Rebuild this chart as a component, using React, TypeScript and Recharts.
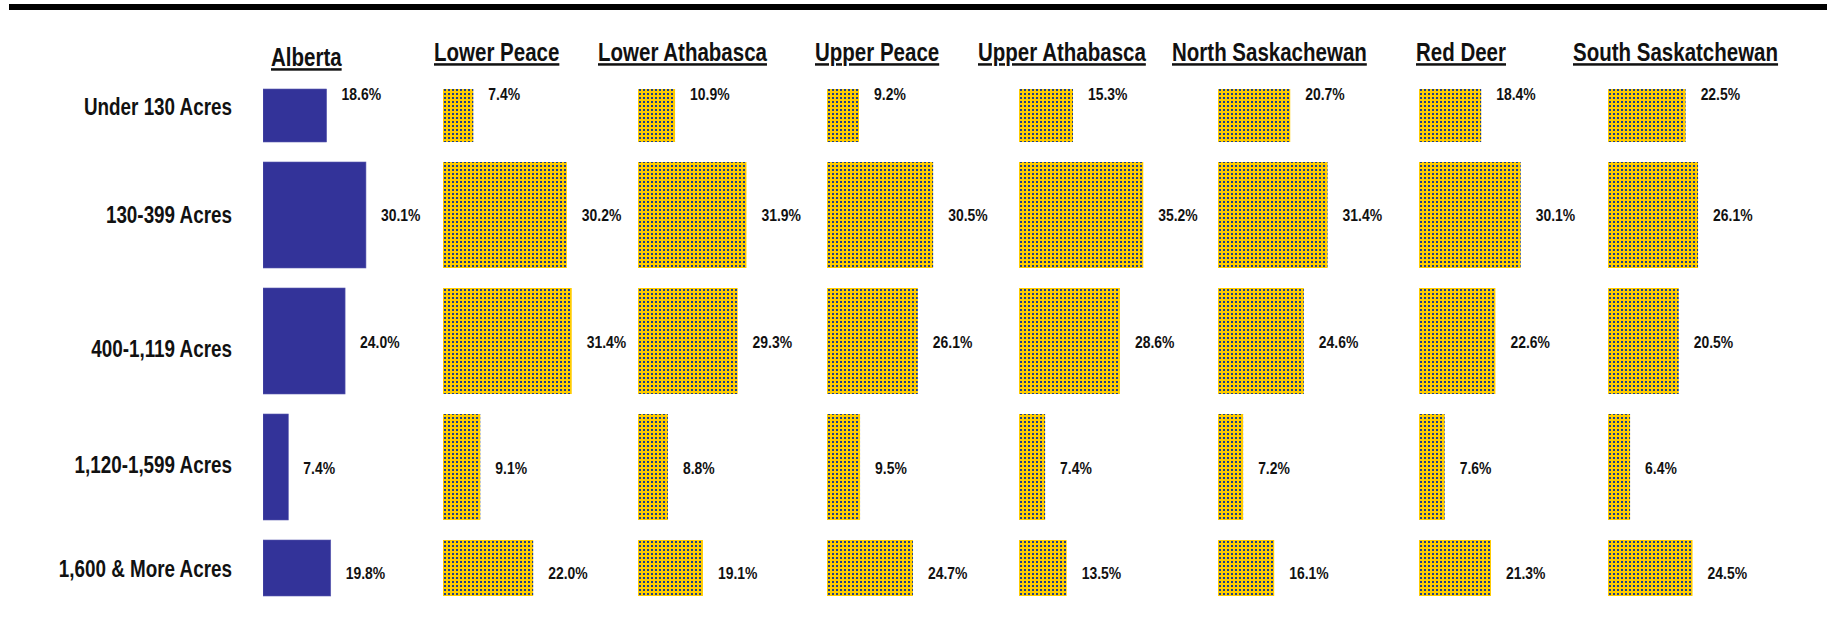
import React from 'react';
import { BarChart, Bar, XAxis, YAxis } from 'recharts';

const ROWS = ['Under 130 Acres', '130-399 Acres', '400-1,119 Acres', '1,120-1,599 Acres', '1,600 & More Acres'];
const REGIONS = [
  'Alberta',
  'Lower Peace',
  'Lower Athabasca',
  'Upper Peace',
  'Upper Athabasca',
  'North Saskachewan',
  'Red Deer',
  'South Saskatchewan',
];

const ALBERTA = [18.6, 30.1, 24.0, 7.4, 19.8];
const LOWER_PEACE = [7.4, 30.2, 31.4, 9.1, 22.0];
const LOWER_ATHABASCA = [10.9, 31.9, 29.3, 8.8, 19.1];
const UPPER_PEACE = [9.2, 30.5, 26.1, 9.5, 24.7];
const UPPER_ATHABASCA = [15.3, 35.2, 28.6, 7.4, 13.5];
const NORTH_SASKATCHEWAN = [20.7, 31.4, 24.6, 7.2, 16.1];
const RED_DEER = [18.4, 30.1, 22.6, 7.6, 21.3];
const SOUTH_SASKATCHEWAN = [22.5, 26.1, 20.5, 6.4, 24.5];

const SERIES = [
  ALBERTA,
  LOWER_PEACE,
  LOWER_ATHABASCA,
  UPPER_PEACE,
  UPPER_ATHABASCA,
  NORTH_SASKATCHEWAN,
  RED_DEER,
  SOUTH_SASKATCHEWAN,
];

// layout (page pixels)
const PANEL_LEFT = [263, 443, 638, 827, 1019, 1218, 1419, 1608];
const PX_PER_PCT = [3.42, 4.1, 3.4, 3.48, 3.53, 3.49, 3.38, 3.45];
const TITLE_LEFT = [271, 434, 598, 815, 978, 1172, 1416, 1573];
const TITLE_BASE = [66, 61, 61, 61, 61, 61, 61, 61];
const PLOT_W = 200;
const CHART_H = 660;
const BAR_H = 106;
const ROW_LABEL_DY = [18, 0, 8, -2, -24];
const VALUE_DY = [5, 0, 1, 1, -20];
// Arial Narrow look: Liberation Sans squeezed horizontally
const FONT = "'Liberation Sans', Arial, sans-serif";
const NARROW = 0.82;

const ALBERTA_BLUE = '#333399';
const YELLOW = '#FFCC00';
const DOT = '#1C3F8C';

function NarrowText({ x, y, size, anchor, children, underline }: any) {
  return (
    <text
      transform={`translate(${x},${y}) scale(${NARROW},1)`}
      textAnchor={anchor || 'start'}
      dy={underline ? 0 : '0.36em'}
      fontFamily={FONT}
      fontWeight="bold"
      fontSize={size}
      fill="#111"
      style={underline ? { textDecoration: 'underline' } : undefined}
    >
      {children}
    </text>
  );
}

function CutBar(props: any) {
  const { x, y, width, height, index, fill, payload } = props;
  let top = y;
  let h = height;
  // first row only shows its lower half, last row its upper half
  if (index === 0) {
    top = y + height / 2;
    h = height / 2;
  }
  if (index === ROWS.length - 1) {
    h = height / 2 + 3;
  }
  const cy = y + height / 2 + VALUE_DY[index];
  return (
    <g>
      <rect
        x={x}
        y={top}
        width={width}
        height={h}
        fill={fill}
        stroke={fill === ALBERTA_BLUE ? '#5a5ab0' : 'none'}
        strokeWidth={0.6}
      />
      <NarrowText x={x + width + 15} y={cy} size={17}>
        {payload.v.toFixed(1)}%
      </NarrowText>
    </g>
  );
}

function RowTick(props: any) {
  const { y, payload } = props;
  const i = ROWS.indexOf(payload.value);
  return (
    <NarrowText x={232} y={y + ROW_LABEL_DY[i]} size={23} anchor="end">
      {payload.value}
    </NarrowText>
  );
}

function Panel({ p }: { p: number }) {
  const data = ROWS.map((cat, i) => ({ cat, v: SERIES[p][i] }));
  const first = p === 0;
  const axisW = first ? PANEL_LEFT[0] : 0;
  return (
    <div style={{ position: 'absolute', top: 0, left: first ? 0 : PANEL_LEFT[p] }}>
      <BarChart
        layout="vertical"
        width={axisW + PLOT_W}
        height={CHART_H}
        data={data}
        margin={{ top: 26, right: 0, bottom: 4, left: 0 }}
        style={{ overflow: 'visible' }}
      >
        <XAxis type="number" domain={[0, PLOT_W / PX_PER_PCT[p]]} allowDataOverflow hide />
        {first ? (
          <YAxis
            type="category"
            dataKey="cat"
            width={axisW}
            axisLine={false}
            tickLine={false}
            interval={0}
            tick={(t: any) => <RowTick {...t} />}
          />
        ) : (
          <YAxis type="category" dataKey="cat" hide />
        )}
        <Bar
          dataKey="v"
          barSize={BAR_H}
          fill={first ? ALBERTA_BLUE : 'url(#dotFill)'}
          isAnimationActive={false}
          shape={(s: any) => <CutBar {...s} />}
        />
      </BarChart>
    </div>
  );
}

export default function App() {
  return (
    <div style={{ position: 'absolute', left: 0, top: 0, width: 1843, height: 621, overflow: 'hidden', background: '#fff' }}>
      <svg width={1843} height={621} style={{ position: 'absolute', left: 0, top: 0 }}>
        <defs>
          <pattern id="dotFill" patternUnits="userSpaceOnUse" width={4} height={4}>
            <rect x={0} y={0} width={4} height={4} fill={YELLOW} />
            <rect x={1} y={1} width={2} height={2} fill={DOT} />
          </pattern>
        </defs>
        <rect x={9} y={4} width={1818} height={6} fill="#000" />
        {REGIONS.map((r, i) => (
          <NarrowText key={r} x={TITLE_LEFT[i]} y={TITLE_BASE[i]} size={25} underline>
            {r}
          </NarrowText>
        ))}
      </svg>
      {REGIONS.map((r, i) => (
        <Panel key={r} p={i} />
      ))}
    </div>
  );
}
